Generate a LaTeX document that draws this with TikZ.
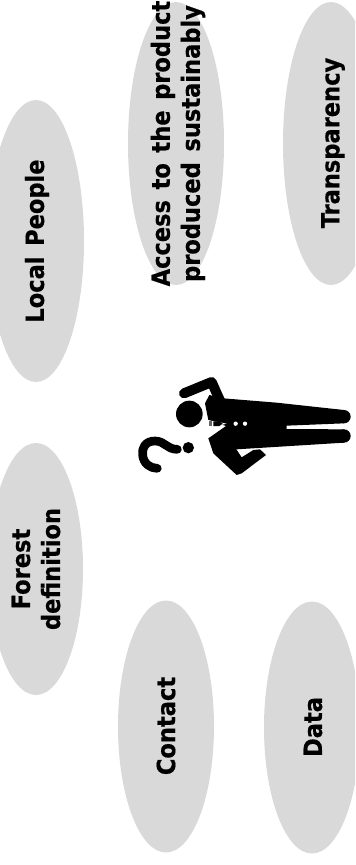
\documentclass[tikz,border=0pt]{standalone}
\usepackage{fontspec}
\setmainfont[BoldFeatures={FakeBold=0.5},WordSpace=1.35]{DejaVu Sans Condensed}
\tikzset{
  x=0.75pt,y=-0.75pt,
  lbl/.style={rotate=90,align=center,font=\fontsize{18.8pt}{22.5pt}\selectfont\bfseries,text=black,inner sep=0pt},
  limb/.style={line width=#1*0.25pt,line cap=round,line join=round,black}
}
\definecolor{ovalgrey}{HTML}{D9D9D9}
\begin{document}
\begin{tikzpicture}
\useasboundingbox (0,0) rectangle (355,865);
\clip (0,0) rectangle (355,865);
\fill[ovalgrey] (36,241) ellipse [x radius=48,y radius=141];
\fill[ovalgrey] (36,569) ellipse [x radius=47,y radius=126];
\fill[ovalgrey] (176,143.5) ellipse [x radius=48,y radius=141.5];
\fill[ovalgrey] (331,143.5) ellipse [x radius=48,y radius=141.5];
\fill[ovalgrey] (166,726.5) ellipse [x radius=48,y radius=126];
\fill[ovalgrey] (312,727.5) ellipse [x radius=48,y radius=126];
\node[lbl] (local) at (37,241) {Local People};
\node[lbl] (forest) at (36,569) {Forest\\definition};
\node[lbl] (access) at (178,143.5) {Access to the product\\produced sustainably};
\node[lbl] (transp) at (333,143) {Transparency};
\node[lbl] (contact) at (166,726) {Contact};
\node[lbl] (data) at (313,727) {Data};
\begin{scope}[shift={(120,360)},x=0.25pt,y=-0.25pt]
  \fill[black] (208,162) circle (40);
  \draw[limb=30] (192,100) -- (275,66) -- (300,122);
  \fill[black] (268,105) -- (310,115) -- (470,128) -- (672,150)
     -- (672,190) -- (500,197) -- (500,207) -- (672,208)
     -- (672,248) -- (350,268) -- (300,262) -- (265,235)
     -- (318,198) -- (265,180) -- (255,130) -- cycle;
  \fill[black] (672,170) circle (20);
  \fill[black] (672,228) circle (20);
  \fill[black,line join=round] (265,235) -- (345,262) -- (365,292) -- (400,270) -- (420,268)
     -- (438,285) -- (365,340) -- (350,345) -- (280,280) -- cycle;
  \fill[white] (262,180) -- (320,191) -- (262,205) -- cycle;
  \fill[black] (280,184) -- (298,184) -- (308,191) -- (298,198) -- (280,198) -- cycle;
  \fill[black!60] (268,184) rectangle (276,198);
  \fill[white] (347,191) circle (6.5);
  \fill[white] (375,191) circle (6.5);
  \fill[black] (205,263) circle (17);
  \draw[limb=26] (172,268) .. controls (140,268) and (135,243) .. (105,243)
     .. controls (75,243) and (65,265) .. (68,285) .. controls (70,310) and (90,325) .. (112,325);
\end{scope}
\end{tikzpicture}
\end{document}
